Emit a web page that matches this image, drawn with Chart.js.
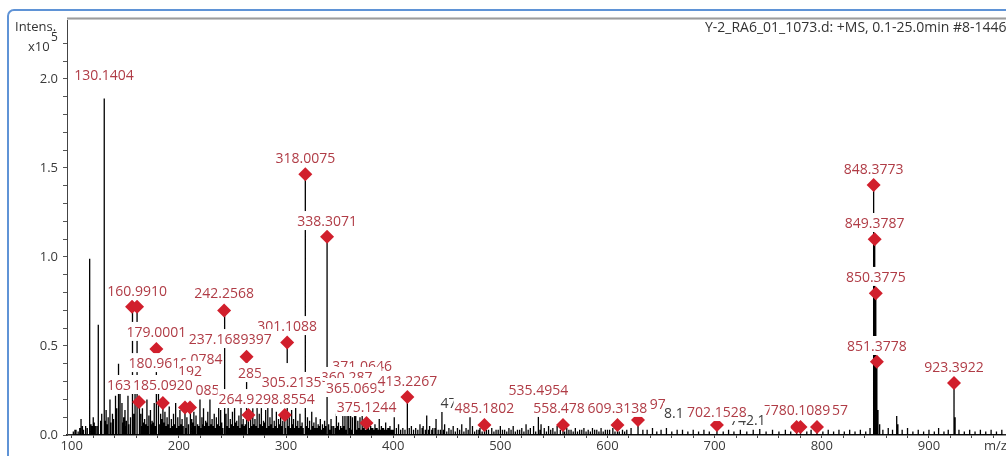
<!DOCTYPE html>
<html>
<head>
<meta charset="utf-8">
<script src="https://cdn.jsdelivr.net/npm/chart.js@4.4.1/dist/chart.umd.min.js"></script>
<style>
  html, body { margin: 0; padding: 0; background: #fff; overflow: hidden; }
  canvas { display: block; }
</style>
</head>
<body>
<canvas id="ms" width="1006" height="456"></canvas>
<script>
// ---- Spectrum data: m/z and intensity (x10^5) ----

// Annotated peaks, drawn with a red diamond at the apex
const markerMz  = [156.3, 160.9910, 162.8, 179.0001, 185.0920, 205.7, 210.4, 242.2568, 263.2, 264.93,
                   298.8554, 301.1088, 318.0075, 338.3071, 375.1244, 413.2267, 485.1802, 558.478, 609.3138, 628.5,
                   702.1528, 776.5, 780.1089, 795.5, 848.3773, 849.3787, 850.3775, 851.3778, 923.3922];
const markerInt = [0.72, 0.72, 0.185, 0.483, 0.18, 0.155, 0.155, 0.70, 0.44, 0.112,
                   0.112, 0.52, 1.465, 1.114, 0.067, 0.213, 0.056, 0.056, 0.056, 0.084,
                   0.056, 0.045, 0.045, 0.045, 1.404, 1.10, 0.796, 0.412, 0.292];

// Remaining centroid peaks
const peakMz = [101.5, 104, 106, 108.7, 111, 113, 116.4, 118, 120.1, 122, 124.8, 126.5, 128, 130.1404, 130.5,
  132.1, 134, 135.7, 137.6, 139, 140.4, 142, 143.2, 145.1, 146.9, 148.5, 149.7, 151, 152.5, 154.4, 158, 159.1,
  164.5, 166, 168, 170.2, 172, 173.5, 175, 177, 180.9618, 182.5, 184, 187, 189, 191, 193, 195, 197, 199,
  201, 203, 207.5, 212, 214, 216, 219.7, 221.5, 223, 225, 227, 229, 231, 233, 235, 237.1689, 239,
  244, 246, 248, 250, 252, 254, 256, 258, 260, 267, 269, 271, 273, 275, 277, 279, 281, 283, 285, 287,
  289, 291, 293, 295, 297, 303, 305.2135, 307, 309, 311, 313, 315, 320, 322, 324, 326, 328, 330, 332,
  334, 336, 340, 342, 344.5, 347, 349, 351, 353, 355, 357, 358.5, 360.287, 362, 363.5, 365.069, 367, 369,
  371.0646, 373, 377, 379, 381, 383, 385, 387, 389, 391, 393, 395, 397, 399, 401, 405, 409, 417, 421,
  425, 428, 431.3, 434, 437, 440, 445.5, 448, 452, 456, 460, 464, 468, 471.7, 474, 478, 481, 489, 492,
  496, 500, 504, 508, 512, 516, 520, 524, 528, 531, 535.4954, 538, 541, 545, 549, 553, 562, 566, 570,
  574, 578, 582, 586, 590, 594, 598, 602, 605, 614, 618, 622, 633, 637, 642, 646, 650, 655, 660, 665,
  670, 675, 680, 685, 690, 695, 708, 713, 718, 724, 730, 736, 742.1, 748, 754, 760, 766, 771, 786, 790,
  801, 806, 811, 816, 821, 826, 831, 836, 841, 845, 852.4, 854, 857, 862, 866, 869.9, 871, 875, 880,
  885, 890, 895, 900, 905, 909, 914, 918, 924.4, 928, 933, 938, 943, 948, 953, 958, 963, 968,
  // low-level baseline peaks
  103, 107.5, 110, 114.5, 117, 119, 121, 123.5, 127.3, 131.2, 133, 136.5, 138.3, 141.2, 144, 147.7, 150.3,
  153.3, 155.2, 157, 163.5, 165.2, 167, 169, 171, 174.3, 176, 178, 181.7, 183.3, 186, 188, 190, 192, 194,
  196, 198, 200, 202, 204, 206.5, 209, 211, 213, 215, 217.5, 218.5, 220.5, 222.3, 224, 226, 228, 230, 232,
  234, 236, 238, 240, 241, 243, 245, 247, 249, 251, 253, 255, 257, 259, 261, 262, 266, 268, 270, 272, 274,
  276, 278, 280, 282, 284, 286, 288, 290, 292, 294, 296, 299.5, 302, 304, 306, 308, 310, 312, 314, 316,
  319, 321, 323, 325, 327, 329, 331, 333, 335, 337, 339.5, 341, 343, 346, 348, 350, 352, 354, 356, 359.5,
  361, 364.3, 366, 368, 370, 372, 374, 376, 378, 380, 382, 384, 386, 388, 390, 392, 394, 396, 398, 400,
  403, 407, 411, 415, 419, 423, 427, 430, 433, 436, 439, 442, 444, 447, 450, 454, 458, 462, 466, 470,
  476, 480, 483, 487, 494, 498, 502, 506, 510, 514, 518, 522, 526, 533, 537, 543, 547, 551, 556, 560,
  564, 568, 572, 576, 580, 584, 588, 592, 596, 600, 607, 611, 616, 620, 625, 631, 635, 640, 644, 648];
const peakInt = [0.02, 0.03, 0.02, 0.09, 0.03, 0.05, 0.99, 0.06, 0.10, 0.05, 0.62, 0.08, 0.12, 1.89, 1.42,
  0.14, 0.10, 0.20, 0.12, 0.09, 0.22, 0.15, 0.40, 0.24, 0.18, 0.10, 0.14, 0.08, 0.22, 0.10, 0.12, 0.25,
  0.12, 0.15, 0.09, 0.20, 0.11, 0.14, 0.08, 0.18, 0.30, 0.12, 0.09, 0.13, 0.10, 0.16, 0.09, 0.12, 0.18, 0.10,
  0.14, 0.09, 0.10, 0.09, 0.13, 0.11, 0.20, 0.10, 0.15, 0.08, 0.13, 0.20, 0.09, 0.12, 0.10, 0.25, 0.14,
  0.12, 0.20, 0.09, 0.13, 0.18, 0.08, 0.11, 0.16, 0.09, 0.10, 0.15, 0.09, 0.20, 0.12, 0.18, 0.08, 0.14, 0.22, 0.10, 0.17,
  0.08, 0.13, 0.09, 0.12, 0.08, 0.10, 0.14, 0.09, 0.17, 0.08, 0.12, 0.07, 0.10, 0.08, 0.13, 0.07, 0.10, 0.06, 0.09,
  0.06, 0.08, 0.06, 0.09, 0.05, 0.12, 0.07, 0.05, 0.14, 0.18, 0.12, 0.20, 0.22, 0.10, 0.15, 0.13, 0.08, 0.10,
  0.14, 0.06, 0.08, 0.05, 0.04, 0.06, 0.04, 0.09, 0.05, 0.04, 0.07, 0.04, 0.05, 0.03, 0.10, 0.06, 0.04, 0.05, 0.04,
  0.06, 0.05, 0.11, 0.05, 0.04, 0.09, 0.13, 0.06, 0.04, 0.05, 0.04, 0.06, 0.04, 0.10, 0.05, 0.03, 0.04, 0.03, 0.04,
  0.03, 0.05, 0.03, 0.04, 0.05, 0.03, 0.04, 0.06, 0.04, 0.05, 0.15, 0.06, 0.04, 0.05, 0.04, 0.05, 0.04, 0.03, 0.04,
  0.03, 0.04, 0.03, 0.04, 0.03, 0.04, 0.03, 0.03, 0.04, 0.03, 0.03, 0.04, 0.03, 0.03, 0.04, 0.02, 0.03, 0.04, 0.02, 0.03,
  0.03, 0.02, 0.03, 0.02, 0.03, 0.02, 0.02, 0.03, 0.02, 0.03, 0.02, 0.03, 0.035, 0.02, 0.03, 0.02, 0.03, 0.02, 0.02, 0.03,
  0.02, 0.03, 0.02, 0.03, 0.02, 0.03, 0.02, 0.03, 0.02, 0.04, 0.14, 0.06, 0.03, 0.04, 0.03, 0.107, 0.06, 0.03, 0.04,
  0.02, 0.03, 0.02, 0.03, 0.02, 0.04, 0.02, 0.03, 0.10, 0.03, 0.02, 0.03, 0.02, 0.03, 0.02, 0.03, 0.02, 0.03,
  0.03, 0.04, 0.05, 0.04, 0.06, 0.05, 0.07, 0.05, 0.06, 0.08, 0.06, 0.07, 0.05, 0.08, 0.06, 0.07, 0.05,
  0.06, 0.07, 0.05, 0.06, 0.05, 0.07, 0.06, 0.05, 0.06, 0.07, 0.05, 0.06, 0.05, 0.07, 0.05, 0.06, 0.04, 0.05,
  0.06, 0.04, 0.05, 0.06, 0.05, 0.04, 0.06, 0.05, 0.07, 0.05, 0.06, 0.05, 0.04, 0.06, 0.05, 0.07, 0.05, 0.06,
  0.05, 0.04, 0.06, 0.05, 0.07, 0.04, 0.06, 0.05, 0.04, 0.06, 0.05, 0.07, 0.05, 0.04, 0.06, 0.05, 0.06, 0.04, 0.05,
  0.06, 0.05, 0.04, 0.06, 0.05, 0.07, 0.04, 0.05, 0.06, 0.04, 0.05, 0.04, 0.06, 0.05, 0.04, 0.05, 0.04, 0.06,
  0.04, 0.05, 0.04, 0.05, 0.04, 0.05, 0.04, 0.03, 0.05, 0.04, 0.04, 0.05, 0.03, 0.04, 0.05, 0.04, 0.03, 0.05,
  0.04, 0.05, 0.03, 0.04, 0.05, 0.03, 0.04, 0.03, 0.04, 0.03, 0.04, 0.03, 0.04, 0.03, 0.04, 0.03, 0.04, 0.03, 0.04, 0.03,
  0.03, 0.04, 0.03, 0.03, 0.04, 0.03, 0.03, 0.04, 0.03, 0.03, 0.04, 0.03, 0.03, 0.04, 0.03, 0.03, 0.03, 0.04, 0.03, 0.03,
  0.03, 0.02, 0.03, 0.02, 0.03, 0.02, 0.03, 0.02, 0.03, 0.02, 0.03, 0.02, 0.03, 0.03, 0.02, 0.03, 0.02, 0.03, 0.02, 0.03,
  0.02, 0.03, 0.02, 0.03, 0.02, 0.03, 0.02, 0.03, 0.02, 0.02, 0.03, 0.02, 0.02, 0.03, 0.02, 0.02, 0.03, 0.02, 0.02, 0.02];

// Peak labels: text, m/z at the label centre, intensity level of the label centre.
// Figure spaces stand for digits hidden behind a neighbouring label.
const FS = '\u2007';
const labelText = ['130.1404', '318.0075', '338.3071', '848.3773', '849.3787', '850.3775', '851.3778', '923.3922',
  '160.9910', '242.2568', '301.1088', '179.0001', '397', '237.1689', '371.0646', '180.9618', '.0784', '192',
  '360.287' + FS, '285' + FS.repeat(5), '365.0690', '413.2267', '305.2135', '163' + FS.repeat(5), '185.0920', '085',
  '535.4954', '264.9' + FS.repeat(3), '298.8554', '47' + FS.repeat(6), '375.1244', '485.1802', '558.478' + FS,
  '609.3138', '97', '8.1', '742.1' + FS.repeat(3), '702.1528', '7', '780.1089', '57'];
const labelMz = [130.1404, 318.0075, 338.3071, 848.3773, 849.3787, 850.3775, 851.3778, 923.3922,
  160.9910, 242.2568, 301.1088, 179.0001, 275.5, 237.1689, 371.0646, 180.9618, 224.0, 210.4,
  360.287, 285.0, 365.069, 413.2267, 305.2135, 162.8, 185.0920, 226.7,
  535.4954, 264.93, 298.8554, 474.0, 375.1244, 485.1802, 558.478,
  609.3138, 647.0, 662.0, 742.1, 702.1528, 749.7, 780.1089, 817.0];
const labelLevel = [2.022, 1.556, 1.202, 1.494, 1.191, 0.888, 0.500, 0.382,
  0.809, 0.798, 0.612, 0.579, 0.539, 0.539, 0.388, 0.404, 0.427, 0.360,
  0.326, 0.348, 0.264, 0.303, 0.298, 0.281, 0.281, 0.253,
  0.253, 0.202, 0.202, 0.180, 0.157, 0.152, 0.152,
  0.152, 0.174, 0.124, 0.084, 0.129, 0.140, 0.140, 0.140];

// Axis tick labels
const xTickLabels = [100, 200, 300, 400, 500, 600, 700, 800, 900];
const yTickLabels = [0.0, 0.5, 1.0, 1.5, 2.0];

// ---- Build the stick table for the line dataset ----
const allPeaks = peakMz.map((m, i) => [m, peakInt[i]])
  .concat(markerMz.map((m, i) => [m, markerInt[i]]))
  .sort((a, b) => a[0] - b[0]);
const stickPoints = [];
allPeaks.forEach(([m, v]) => {
  stickPoints.push({ x: m, y: 0 }, { x: m, y: v }, { x: m, y: 0 });
});
const markerPoints = markerMz.map((m, i) => ({ x: m, y: markerInt[i] }));

const FONT = '"Open Sans", "DejaVu Sans", sans-serif';
const greyLabels = new Set(['47' + FS.repeat(6), '8.1', '742.1' + FS.repeat(3)]);

// Page frame, plot-box top edge and the axis captions
const framePlugin = {
  id: 'frame',
  beforeDraw(chart) {
    const ctx = chart.ctx;
    ctx.save();
    ctx.fillStyle = '#fff';
    ctx.fillRect(0, 0, chart.width, chart.height);
    ctx.strokeStyle = '#5f93d6';
    ctx.lineWidth = 2;
    ctx.beginPath();
    ctx.roundRect(8, 10, 1200, 600, 6);
    ctx.stroke();
    ctx.restore();
  },
  afterDraw(chart) {
    const { ctx, chartArea } = chart;
    ctx.save();
    ctx.fillStyle = '#c9c9c9';
    ctx.fillRect(chartArea.left, chartArea.top - 2, chartArea.right - chartArea.left, 3);
    ctx.fillStyle = '#9c9c9c';
    ctx.fillRect(chartArea.left, chartArea.top - 1, chartArea.right - chartArea.left, 1);

    ctx.fillStyle = '#333';
    ctx.textBaseline = 'middle';
    ctx.textAlign = 'left';
    ctx.font = '13px ' + FONT;
    ctx.fillText('Intens.', 15, 27);
    ctx.fillText('x10', 28, 47);
    ctx.font = '12px ' + FONT;
    ctx.fillText('5', 51, 38);

    ctx.font = '14px ' + FONT;
    ctx.fillText('Y-2_RA6_01_1073.d: +MS, 0.1-25.0min #8-1446', 705, 28);

    ctx.font = '13px ' + FONT;
    ctx.fillStyle = '#3a3a3a';
    ctx.fillText('m/z', 984, 446);
    ctx.restore();
  }
};

// Peak labels on white boxes; later labels cover earlier ones
const labelPlugin = {
  id: 'peakLabels',
  afterDatasetsDraw(chart) {
    const { ctx, scales: { x, y } } = chart;
    ctx.save();
    ctx.font = '14px ' + FONT;
    ctx.textAlign = 'center';
    ctx.textBaseline = 'middle';
    labelText.forEach((t, i) => {
      const px = x.getPixelForValue(labelMz[i]);
      const py = y.getPixelForValue(labelLevel[i]);
      const w = ctx.measureText(t).width;
      ctx.fillStyle = '#fff';
      ctx.fillRect(px - w / 2 - 1, py - 10, w + 2, 19);
      ctx.fillStyle = greyLabels.has(t) ? '#3b3b3b' : '#b03c46';
      ctx.fillText(t, px, py + 1);
    });
    ctx.restore();
  }
};

new Chart(document.getElementById('ms'), {
  type: 'line',
  data: {
    datasets: [
      {
        type: 'scatter',
        data: markerPoints,
        pointStyle: 'rectRot',
        pointRadius: 7,
        backgroundColor: '#d11f2c',
        borderColor: '#d11f2c',
        borderWidth: 0,
        showLine: false,
        order: 0
      },
      {
        data: stickPoints,
        borderColor: '#000',
        borderWidth: 1.3,
        pointRadius: 0,
        tension: 0,
        fill: false,
        order: 1
      }
    ]
  },
  options: {
    responsive: false,
    animation: false,
    events: [],
    layout: { autoPadding: false, padding: { top: 19, right: 0, left: 0, bottom: 0 } },
    plugins: { legend: { display: false }, tooltip: { enabled: false } },
    scales: {
      x: {
        type: 'linear',
        min: 95.6,
        max: 971.9,
        afterBuildTicks: s => {
          const t = [];
          for (let v = 100; v <= 960; v += 20) t.push({ value: v });
          s.ticks = t;
        },
        afterFit: s => { s.height = 21; s.paddingLeft = 0; s.paddingRight = 0; },
        ticks: {
          autoSkip: false,
          maxRotation: 0,
          padding: 0,
          color: '#3a3a3a',
          font: { family: FONT, size: 13 },
          callback: v => xTickLabels.includes(v) ? String(v) : ''
        },
        grid: { drawOnChartArea: false, tickLength: 3, tickColor: '#444' },
        border: { color: '#222', width: 1.5 }
      },
      y: {
        min: 0,
        max: 2.337,
        afterBuildTicks: s => {
          const t = [];
          for (let k = 0; k <= 22; k++) t.push({ value: k / 10 });
          s.ticks = t;
        },
        afterFit: s => { s.width = 67; },
        ticks: {
          autoSkip: false,
          padding: 5,
          color: '#3a3a3a',
          font: { family: FONT, size: 13 },
          callback: v => yTickLabels.some(t => Math.abs(t - v) < 1e-6) ? v.toFixed(1) : ''
        },
        grid: { drawOnChartArea: false, tickLength: 4, tickColor: '#555' },
        border: { color: '#444', width: 1 }
      }
    }
  },
  plugins: [framePlugin, labelPlugin]
});
</script>
</body>
</html>
